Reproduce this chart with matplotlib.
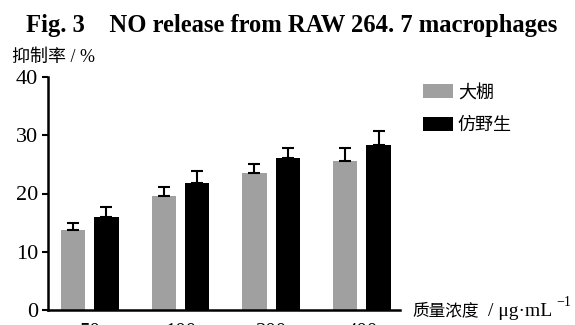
import matplotlib.pyplot as plt
import numpy as np

plt.rcParams['font.family'] = ['Liberation Serif', 'Noto Sans CJK SC', 'DejaVu Sans']

concentrations = ["50", "100", "200", "400"]
greenhouse = [13.7, 19.6, 23.5, 25.6]
greenhouse_err = [1.2, 1.5, 1.5, 2.2]
wild = [16.0, 21.8, 26.1, 28.3]
wild_err = [1.7, 2.0, 1.7, 2.4]

fig = plt.figure(figsize=(5.75, 3.25), dpi=100)
ax = fig.add_axes([48 / 575, 15 / 325, 352 / 575, 233 / 325])

x = np.arange(len(concentrations))
w = 0.27
off = 0.184
ax.bar(x - off, greenhouse, w, color="#a0a0a0", label="大棚",
       yerr=[np.zeros(4), greenhouse_err], capsize=4,
       error_kw=dict(ecolor="black", elinewidth=1.5, capthick=1.5))
ax.bar(x + off, wild, w, color="black", label="仿野生",
       yerr=[np.zeros(4), wild_err], capsize=4,
       error_kw=dict(ecolor="black", elinewidth=1.5, capthick=1.5))

ax.set_xlim(-0.46, 3.42)
ax.set_ylim(0, 40)
ax.set_yticks([0, 10, 20, 30, 40])
ax.set_xticks(x)
ax.set_xticklabels(concentrations)
ax.tick_params(axis="x", length=0, pad=9.5, labelsize=15)
ax.tick_params(axis="y", length=4, width=1.5, pad=3, labelsize=16)
for s in ["top", "right"]:
    ax.spines[s].set_visible(False)
for s in ["left", "bottom"]:
    ax.spines[s].set_linewidth(1.8)

fig.text(0.508, 1 - 32 / 325, "Fig. 3    NO release from RAW 264. 7 macrophages",
         ha="center", va="baseline", fontsize=17.7, fontweight="bold")
fig.text(12 / 575, 1 - 57 / 325, "抑制率 / %", ha="left", va="center", fontsize=13)

# x axis title, pieced together so the superscript sits right
fig.text(412 / 575, 1 - 311 / 325, "质量浓度", ha="left", va="center", fontsize=12)
fig.text(488 / 575, 1 - 311 / 325, "/ μg·mL", ha="left", va="center", fontsize=14)
fig.text(556 / 575, 1 - 303 / 325, "−1", ha="left", va="center", fontsize=10)

fig.legend(loc="upper left", bbox_to_anchor=(416 / 575, 1 - 77 / 325), frameon=False,
           fontsize=13, handlelength=1.67, handleheight=0.83, handletextpad=0.25,
           labelspacing=0.85, borderaxespad=0)

fig.savefig("out.png", dpi=100)
